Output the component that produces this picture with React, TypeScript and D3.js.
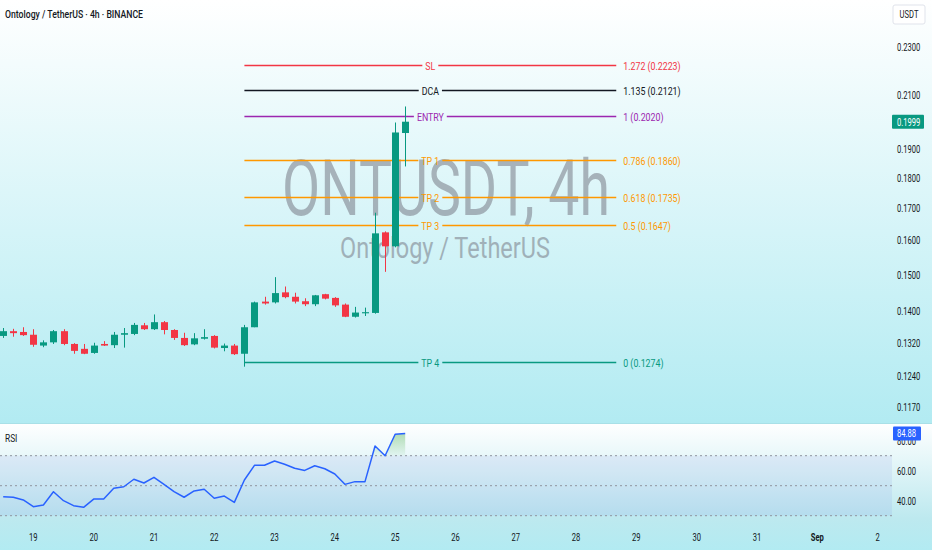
import * as d3 from "d3";

// 4h bars, first bar 18 Aug 12:00 UTC
const opens = [0.1337, 0.1349, 0.1347, 0.1340, 0.1313, 0.1321, 0.1349, 0.1317, 0.1305, 0.1295, 0.1317, 0.1314, 0.1340, 0.1342, 0.1364, 0.1354, 0.1372, 0.1352, 0.1332, 0.1316, 0.1330, 0.1337, 0.1307, 0.1313, 0.1293, 0.1359, 0.1426, 0.1424, 0.1451, 0.1439, 0.1427, 0.1419, 0.1446, 0.1436, 0.1418, 0.1386, 0.1395, 0.1396, 0.1624, 0.1582, 0.1957];
const highs = [0.1357, 0.1355, 0.1359, 0.1354, 0.1326, 0.1352, 0.1354, 0.1319, 0.1317, 0.1320, 0.1324, 0.1347, 0.1357, 0.1370, 0.1370, 0.1392, 0.1375, 0.1354, 0.1345, 0.1344, 0.1354, 0.1339, 0.1318, 0.1317, 0.1365, 0.1426, 0.1439, 0.1493, 0.1467, 0.1450, 0.1435, 0.1444, 0.1447, 0.1438, 0.1421, 0.1412, 0.1410, 0.1685, 0.1627, 0.1996, 0.2057];
const lows = [0.1332, 0.1335, 0.1337, 0.1310, 0.1309, 0.1317, 0.1314, 0.1293, 0.1292, 0.1293, 0.1312, 0.1307, 0.1308, 0.1339, 0.1352, 0.1352, 0.1341, 0.1327, 0.1312, 0.1314, 0.1328, 0.1306, 0.1299, 0.1290, 0.1262, 0.1359, 0.1418, 0.1421, 0.1435, 0.1421, 0.1414, 0.1414, 0.1432, 0.1412, 0.1385, 0.1384, 0.1388, 0.1394, 0.1508, 0.1579, 0.1838];
const closes = [0.1349, 0.1344, 0.1339, 0.1315, 0.1321, 0.1349, 0.1317, 0.1300, 0.1293, 0.1313, 0.1313, 0.1340, 0.1344, 0.1365, 0.1354, 0.1372, 0.1352, 0.1332, 0.1314, 0.1331, 0.1334, 0.1308, 0.1313, 0.1292, 0.1359, 0.1424, 0.1421, 0.1449, 0.1438, 0.1426, 0.1419, 0.1443, 0.1434, 0.1416, 0.1386, 0.1397, 0.1398, 0.1621, 0.1582, 0.1959, 0.1999];
const rsiValues = [42.7, 42.3, 40.5, 36.0, 37.1, 46.0, 40.0, 36.7, 35.6, 41.1, 41.1, 48.3, 49.3, 54.3, 51.8, 55.6, 50.9, 46.0, 42.3, 46.5, 47.6, 41.6, 43.1, 38.9, 53.8, 63.6, 63.6, 66.5, 64.3, 61.6, 60.2, 63.3, 61.3, 57.8, 50.9, 52.7, 52.7, 76.5, 70.0, 84.3, 84.88];

const priceTicks = [0.23, 0.21, 0.19, 0.18, 0.17, 0.16, 0.15, 0.14, 0.132, 0.124, 0.117];
const rsiTicks = [80, 60, 40];
const rsiLevels = [70, 50, 30];

const fibNames = ["SL", "DCA", "ENTRY", "TP 1", "TP 2", "TP 3", "TP 4"];
const fibRatios = ["1.272", "1.135", "1", "0.786", "0.618", "0.5", "0"];
const fibPrices = [0.2223, 0.2121, 0.2020, 0.1860, 0.1735, 0.1647, 0.1274];
const fibColors = ["#f23645", "#131722", "#9c27b0", "#ff9800", "#ff9800", "#ff9800", "#089981"];
const fibStartBar = 24;
const fibEndBar = 61;

const symbol = "ONTUSDT";
const interval = "4h";
const pairName = "Ontology / TetherUS";
const exchange = "BINANCE";
const quote = "USDT";
const firstBar = new Date(Date.UTC(2025, 7, 18, 12));
const lastBar = 87;

const UP = "#089981";
const DOWN = "#f23645";
const TXT = "#131722";

const ctx = typeof document !== "undefined" ? document.createElement("canvas").getContext("2d") : null;
const measure = (s: string, font: string) => {
    if (!ctx) return s.length * 6;
    ctx.font = font;
    return ctx.measureText(s).width;
};

const Squeezed = ({ x, y, sx = 0.76, anchor = "start", size = 10, fill = TXT, weight = 400, children }: any) => (
    <text transform={`translate(${x},${y}) scale(${sx},1)`} textAnchor={anchor} fontSize={size} fill={fill} fontWeight={weight}>
        {children}
    </text>
);

const App: React.FC = () => {
    const width = 932;
    const height = 550;
    const plotRight = 892;
    const mainBottom = 423;
    const barTime = (i: number) => d3.utcHour.offset(firstBar, 4 * i);
    const x = d3.scaleUtc([barTime(0), barTime(lastBar)], [3.2, 3.2 + lastBar * 10.05]);
    const y = d3.scaleLog([0.23, 0.117], [47, 407]);
    const yR = d3.scaleLinear([30, 70], [515.7, 455.7]);
    const bx = (i: number) => Math.round(x(barTime(i))) + 0.5;

    const days = d3.utcDay.range(new Date(Date.UTC(2025, 7, 19)), new Date(Date.UTC(2025, 8, 2, 1)));
    const dayLabel = (d: Date) => (d.getUTCDate() === 1 ? d3.utcFormat("%b")(d) : d3.utcFormat("%-d")(d));

    const rsiLine = d3.line<number>((_, i) => x(barTime(i)), (v) => yR(v));
    const rsiArea = d3.area<number>((_, i) => x(barTime(i)), yR(70), (v) => yR(v));

    const fx1 = x(barTime(fibStartBar));
    const fx2 = x(barTime(fibEndBar));
    const fmid = (fx1 + fx2) / 2;

    const lastPrice = closes[closes.length - 1];
    const lastRsi = rsiValues[rsiValues.length - 1];

    return (
        <svg width={width} height={height} style={{ position: "absolute", left: 0, top: 0, display: "block" }} fontFamily="Roboto, sans-serif">
            <defs>
                <linearGradient id="bgMain" x1="0" y1="0" x2="0" y2="1">
                    <stop offset="0" stopColor="#ffffff" />
                    <stop offset="1" stopColor="#b2ebf2" />
                </linearGradient>
                <linearGradient id="bgRsi" x1="0" y1="0" x2="0" y2="1">
                    <stop offset="0" stopColor="#ffffff" />
                    <stop offset="0.75" stopColor="#bde9ef" />
                    <stop offset="1" stopColor="#b2ebf2" />
                </linearGradient>
                <linearGradient id="obFill" gradientUnits="userSpaceOnUse" x1="0" y1={yR(86)} x2="0" y2={yR(70)}>
                    <stop offset="0" stopColor="#4caf50" stopOpacity={0.45} />
                    <stop offset="1" stopColor="#4caf50" stopOpacity={0.05} />
                </linearGradient>
                <clipPath id="mainClip">
                    <rect x={0} y={0} width={plotRight} height={mainBottom} />
                </clipPath>
                <clipPath id="obClip">
                    <rect x={0} y={mainBottom} width={plotRight} height={yR(70) - mainBottom} />
                </clipPath>
            </defs>

            <rect x={0} y={0} width={width} height={mainBottom} fill="url(#bgMain)" />
            <rect x={0} y={mainBottom} width={width} height={height - mainBottom} fill="url(#bgRsi)" />

            {/* watermark */}
            <text x={446} y={215} textAnchor="middle" fontSize={77} textLength={328} lengthAdjust="spacingAndGlyphs" fill="#787b86" opacity={0.55}>
                {`${symbol}, ${interval}`}
            </text>
            <text x={445} y={258} textAnchor="middle" fontSize={30} textLength={210} lengthAdjust="spacingAndGlyphs" fill="#787b86" opacity={0.55}>
                {pairName}
            </text>

            <g clipPath="url(#mainClip)">
                {/* fib levels */}
                {fibPrices.map((p, k) => {
                    const yy = Math.round(y(p)) + 0.5;
                    const half = (measure(fibNames[k], "11px Roboto") * 0.8) / 2 + 3;
                    return (
                        <g key={k}>
                            <line x1={fx1} x2={fmid - half} y1={yy} y2={yy} stroke={fibColors[k]} strokeWidth={1.5} />
                            <line x1={fmid + half} x2={fx2} y1={yy} y2={yy} stroke={fibColors[k]} strokeWidth={1.5} />
                            <Squeezed x={fmid} y={yy + 4} anchor="middle" size={11} sx={0.8} fill={fibColors[k]}>
                                {fibNames[k]}
                            </Squeezed>
                            <Squeezed x={fx2 + 7} y={yy + 4} size={11} sx={0.8} fill={fibColors[k]}>
                                {`${fibRatios[k]} (${p.toFixed(4)})`}
                            </Squeezed>
                        </g>
                    );
                })}

                {/* candles */}
                {closes.map((c, i) => {
                    const o = opens[i];
                    const col = c >= o ? UP : DOWN;
                    const top = y(Math.max(o, c));
                    const bot = y(Math.min(o, c));
                    return (
                        <g key={i}>
                            <line x1={bx(i)} x2={bx(i)} y1={y(highs[i])} y2={y(lows[i])} stroke={col} strokeWidth={1} />
                            <rect x={bx(i) - 3.5} y={top} width={7} height={Math.max(1, bot - top)} fill={col} />
                        </g>
                    );
                })}
            </g>

            {/* title */}
            <text x={5} y={18} fontSize={11} fontWeight={500} fill={TXT} textLength={138} lengthAdjust="spacingAndGlyphs">
                {`${pairName} · ${interval} · ${exchange}`}
            </text>

            {/* price axis */}
            <rect x={893} y={5} width={32} height={19} fill="#ffffff" stroke="#e0e3eb" rx={2} />
            <Squeezed x={909} y={18} anchor="middle" size={10}>{quote}</Squeezed>
            {priceTicks.map((t) => (
                <Squeezed key={t} x={897} y={y(t) + 4} size={10}>
                    {t.toFixed(4)}
                </Squeezed>
            ))}
            <rect x={892} y={y(lastPrice) - 7} width={32} height={14} fill={UP} rx={1} />
            <Squeezed x={897} y={y(lastPrice) + 4} size={10} fill="#ffffff">
                {lastPrice.toFixed(4)}
            </Squeezed>

            <line x1={0} x2={width} y1={mainBottom + 0.5} y2={mainBottom + 0.5} stroke="#a9e0e7" strokeWidth={1} />

            {/* RSI pane */}
            <rect x={0} y={yR(70)} width={plotRight} height={yR(30) - yR(70)} fill="rgba(90,100,220,0.09)" />
            {rsiLevels.map((l) => (
                <line key={l} x1={0} x2={plotRight} y1={yR(l)} y2={yR(l)} stroke="#8f949e" strokeWidth={1} strokeDasharray="2,3" />
            ))}
            <path d={rsiArea(rsiValues) ?? undefined} fill="url(#obFill)" clipPath="url(#obClip)" />
            <path d={rsiLine(rsiValues) ?? undefined} fill="none" stroke="#2962ff" strokeWidth={1.5} strokeLinejoin="round" />
            <Squeezed x={5} y={442} size={11}>RSI</Squeezed>

            {rsiTicks.map((t) => (
                <Squeezed key={t} x={897} y={yR(t) + 4} size={10}>
                    {t.toFixed(2)}
                </Squeezed>
            ))}
            <rect x={893} y={yR(lastRsi) - 7} width={28} height={14} fill="#2962ff" rx={1} />
            <Squeezed x={897} y={yR(lastRsi) + 4} size={10} fill="#ffffff">
                {lastRsi.toFixed(2)}
            </Squeezed>

            {/* time axis */}
            {days.map((d) => (
                <Squeezed key={+d} x={x(d)} y={541} anchor="middle" size={10} weight={d.getUTCDate() === 1 ? 700 : 400}>
                    {dayLabel(d)}
                </Squeezed>
            ))}
        </svg>
    );
};

export default App;
